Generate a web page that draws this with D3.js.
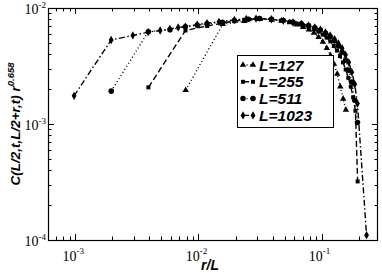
<!DOCTYPE html>
<html lang="en">
<head>
  <meta charset="UTF-8">
  <title>C(L/2,t,L/2+r,t) scaling</title>
  <style type="text/css">
    body { margin: 0; background: #fff; }
    svg { display: block; }
    .tick-label { font-family: "Liberation Serif", "DejaVu Serif", serif; font-size: 14px; fill: #000; }
    .title { font-family: "Liberation Sans", Arial, sans-serif; font-size: 13.5px; font-weight: bold; font-style: italic; fill: #000; }
  </style>
</head>
<body>
  <svg width="382" height="275"></svg>
  <script src="https://cdn.jsdelivr.net/npm/d3@7"></script>
  <script>
    // data: r (distance in sites) and C * r^0.658 (units of 1e-3) for each L
    var sizes = [127, 255, 511, 1023];
    var labels = ["L=127", "L=255", "L=511", "L=1023"];

    var r127 = [1, 2, 3, 4, 5, 6, 7, 8, 9, 10, 11, 12, 13, 14, 15, 16, 17, 18, 19, 20];
    var c127 = [1.96, 7.25, 7.7, 8.0, 7.9, 7.75, 7.5, 7.2, 6.85, 6.5, 6.1, 5.6, 5.1, 4.5, 3.9, 3.3, 2.7, 2.1, 1.65, 1.32];

    var r255 = [1, 2, 3, 4, 5, 6, 8, 10, 12, 14, 16, 18, 20, 22, 24, 26, 28, 30, 32, 34, 36, 38, 40, 42, 44, 46, 48, 50];
    var c255 = [2.07, 6.4, 7.0, 7.4, 7.7, 7.9, 8.1, 8.0, 7.8, 7.6, 7.35, 7.1, 6.85, 6.55, 6.25, 5.9, 5.55, 5.15, 4.7, 4.3, 3.85, 3.4, 2.95, 2.5, 2.1, 1.7, 1.3, 0.32];

    var r511 = [1, 2, 3, 4, 5, 6, 8, 10, 13, 16, 20, 25, 30, 35, 40, 45, 50, 55, 60, 65, 70, 75, 80, 85, 90, 95, 100];
    var c511 = [1.92, 6.25, 6.5, 6.9, 7.1, 7.3, 7.55, 7.8, 8.0, 8.1, 8.0, 7.8, 7.55, 7.3, 7.05, 6.75, 6.45, 6.05, 5.65, 5.2, 4.7, 4.15, 3.55, 2.9, 2.3, 1.6, 1.03];

    var r1023 = [1, 2, 3, 4, 5, 6, 7, 8, 10, 12, 15, 20, 25, 30, 40, 50, 60, 70, 80, 90, 100, 110, 120, 130, 140, 150, 160, 170, 180, 190, 200, 237];
    var c1023 = [1.75, 5.3, 5.8, 6.2, 6.4, 6.6, 6.8, 6.9, 7.2, 7.4, 7.6, 7.9, 8.05, 8.1, 8.0, 7.75, 7.5, 7.3, 7.05, 6.8, 6.5, 6.15, 5.8, 5.4, 4.95, 4.5, 3.95, 3.4, 2.8, 2.2, 1.5, 0.11];

    var xTicks = [1e-3, 1e-2, 1e-1];
    var xTickLabels = ["-3", "-2", "-1"];
    var yTicks = [1e-4, 1e-3, 1e-2];
    var yTickLabels = ["-4", "-3", "-2"];

    var rs = [r127, r255, r511, r1023];
    var cs = [c127, c255, c511, c1023];
    var dashes = ["1,2.6", "6,3", "1,2.6", "6,2.5,1.5,2.5"];
    var symbols = [d3.symbolTriangle, d3.symbolSquare, d3.symbolCircle, d3.symbolDiamond];
    var symSizes = [18, 16, 24, 20];

    var svg = d3.select("svg");
    var mLeft = 48, mRight = 378, mTop = 8, mBottom = 240;

    var x = d3.scaleLog().domain([6e-4, 0.287]).range([mLeft, mRight]);
    var y = d3.scaleLog().domain([1e-4, 1e-2]).range([mBottom, mTop]);

    // minor + major ticks, all four sides, pointing inward
    function minorTicks(scale) {
      var d = scale.domain(), out = [];
      var lo = Math.floor(Math.log10(d[0])), hi = Math.ceil(Math.log10(d[1]));
      for (var e = lo; e <= hi; e++) {
        for (var k = 1; k <= 9; k++) {
          var v = k * Math.pow(10, e);
          if (v >= d[0] * 0.999 && v <= d[1] * 1.001) out.push({ v: v, major: k === 1 });
        }
      }
      return out;
    }

    var g = svg.append("g").attr("stroke", "#000").attr("stroke-width", 1);
    minorTicks(x).forEach(function (t) {
      var len = t.major ? 6 : 3.5;
      var px = Math.round(x(t.v)) + 0.5;
      g.append("line").attr("x1", px).attr("x2", px).attr("y1", mBottom).attr("y2", mBottom - len);
      g.append("line").attr("x1", px).attr("x2", px).attr("y1", mTop).attr("y2", mTop + len);
    });
    minorTicks(y).forEach(function (t) {
      var len = t.major ? 6 : 3.5;
      var py = Math.round(y(t.v)) + 0.5;
      g.append("line").attr("y1", py).attr("y2", py).attr("x1", mLeft).attr("x2", mLeft + len);
      g.append("line").attr("y1", py).attr("y2", py).attr("x1", mRight).attr("x2", mRight - len);
    });

    // series
    var line = d3.line().x(function (d) { return x(d[0]); }).y(function (d) { return y(d[1]); });
    sizes.forEach(function (L, i) {
      var pts = rs[i].map(function (r, j) { return [r / L, cs[i][j] * 1e-3]; });
      svg.append("path")
        .attr("d", line(pts))
        .attr("fill", "none")
        .attr("stroke", "#000")
        .attr("stroke-width", 1.4)
        .attr("stroke-dasharray", dashes[i]);
      svg.append("g").selectAll("path")
        .data(pts)
        .enter()
        .append("path")
        .attr("d", d3.symbol().type(symbols[i]).size(symSizes[i]))
        .attr("transform", function (d) { return "translate(" + x(d[0]) + "," + y(d[1]) + ")"; })
        .attr("fill", "#000");
    });

    // frame
    svg.append("rect")
      .attr("x", mLeft + 0.5).attr("y", mTop + 0.5)
      .attr("width", mRight - mLeft - 1).attr("height", mBottom - mTop)
      .attr("fill", "none").attr("stroke", "#000").attr("stroke-width", 1.2);

    // tick labels
    xTicks.forEach(function (v, i) {
      var t = svg.append("text").attr("class", "tick-label")
        .attr("x", x(v) - 2).attr("y", 261).attr("text-anchor", "middle");
      t.append("tspan").text("10");
      t.append("tspan").attr("dy", -7).style("font-size", "9px").text(xTickLabels[i]);
    });
    yTicks.forEach(function (v, i) {
      var t = svg.append("text").attr("class", "tick-label")
        .attr("x", 46).attr("y", y(v) + 6).attr("text-anchor", "end");
      t.append("tspan").text("10");
      t.append("tspan").attr("dy", -6).style("font-size", "9px").text(yTickLabels[i]);
    });

    // axis titles
    svg.append("text").attr("class", "title").style("font-size", "14px")
      .attr("x", 210).attr("y", 270).attr("text-anchor", "middle").text("r/L");
    var yt = svg.append("text").attr("class", "title")
      .attr("transform", "translate(20,124) rotate(-90)")
      .attr("text-anchor", "middle");
    yt.append("tspan").text("C(L/2,t,L/2+r,t) r");
    yt.append("tspan").attr("dy", -6).style("font-size", "9.5px").text("0.658");

    // legend
    var lg = svg.append("g").attr("transform", "translate(237,55)");
    lg.append("rect").attr("x", 0.5).attr("y", 0.5).attr("width", 96).attr("height", 72)
      .attr("fill", "#fff").attr("stroke", "#000").attr("stroke-width", 1);
    labels.forEach(function (lab, i) {
      var cy = 10 + i * 16.8;
      lg.append("line").attr("x1", 6).attr("x2", 16).attr("y1", cy).attr("y2", cy)
        .attr("stroke", "#000").attr("stroke-width", 1.4).attr("stroke-dasharray", dashes[i]);
      [6, 16].forEach(function (sx) {
        lg.append("path").attr("d", d3.symbol().type(symbols[i]).size(symSizes[i]))
          .attr("transform", "translate(" + sx + "," + cy + ")").attr("fill", "#000");
      });
      lg.append("text").attr("class", "title").style("font-size", "15.5px")
        .attr("x", 22).attr("y", cy + 5.5).text(lab);
    });
  </script>
</body>
</html>
